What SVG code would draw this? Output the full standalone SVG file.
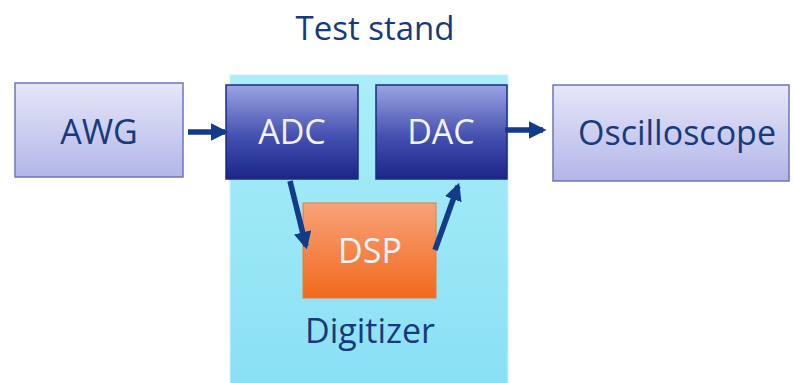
<svg xmlns="http://www.w3.org/2000/svg" width="794" height="383" viewBox="0 0 794 383">
<defs>
<linearGradient id="gLight" x1="0" y1="0" x2="0" y2="1">
<stop offset="0" stop-color="#e6e7f8"/>
<stop offset="1" stop-color="#b2b6e8"/>
</linearGradient>
<linearGradient id="gDark" x1="0" y1="0" x2="0" y2="1">
<stop offset="0" stop-color="#9ba3e2"/>
<stop offset="0.55" stop-color="#4450b0"/>
<stop offset="1" stop-color="#1a2688"/>
</linearGradient>
<linearGradient id="gCyan" x1="0" y1="0" x2="0" y2="1">
<stop offset="0" stop-color="#aaeef9"/>
<stop offset="1" stop-color="#8ae0f4"/>
</linearGradient>
<linearGradient id="gOrange" x1="0" y1="0" x2="0" y2="1">
<stop offset="0" stop-color="#f8a27a"/>
<stop offset="1" stop-color="#f2691c"/>
</linearGradient>
<marker id="ah" viewBox="0 0 10 10" refX="8" refY="5" markerWidth="3.2" markerHeight="3.2" orient="auto" markerUnits="strokeWidth">
<path d="M0,0 L10,5 L0,10 z" fill="#123b8a"/>
</marker>
</defs>
<style>
text{font-family:"Open Sans","Liberation Sans",sans-serif;text-anchor:middle}
.lt{fill:url(#gLight);stroke:#6d74bb;stroke-width:1.5}
.dk{fill:url(#gDark);stroke:#1e2a82;stroke-width:1.5}
.nav{fill:#173a7c;font-size:34px}
.wh{fill:#f2f3fb;font-size:34px}
.conn{stroke:#123b8a;stroke-width:5.5;fill:none;marker-end:url(#ah)}
</style>
<text x="375" y="40" class="nav" style="font-size:33px">Test stand</text>
<g id="digitizer">
<rect x="230" y="75" width="278" height="310" fill="url(#gCyan)" stroke="#c9f3fb" stroke-width="1"/>
<text x="370" y="343" class="nav">Digitizer</text>
</g>
<g id="awg">
<rect x="15" y="83" width="168" height="94" class="lt"/>
<text x="99" y="144" class="nav">AWG</text>
</g>
<g id="adc">
<rect x="226" y="85" width="132" height="94" class="dk"/>
<text x="292" y="144" class="wh">ADC</text>
</g>
<g id="dac">
<rect x="376" y="85" width="131" height="94" class="dk"/>
<text x="441" y="144" class="wh">DAC</text>
</g>
<g id="oscilloscope">
<rect x="553" y="85" width="236" height="96" class="lt"/>
<text x="677" y="145" class="nav">Oscilloscope</text>
</g>
<g id="dsp">
<rect x="303" y="203" width="133" height="95" fill="url(#gOrange)" stroke="#e8783a" stroke-width="1"/>
<text x="370" y="263" class="wh">DSP</text>
</g>
<g id="connectors">
<line x1="188" y1="132" x2="225" y2="132" class="conn"/>
<line x1="505" y1="130" x2="543" y2="130" class="conn"/>
<line x1="290" y1="181" x2="306" y2="246" class="conn"/>
<line x1="435" y1="250" x2="458" y2="186" class="conn"/>
</g>
</svg>
